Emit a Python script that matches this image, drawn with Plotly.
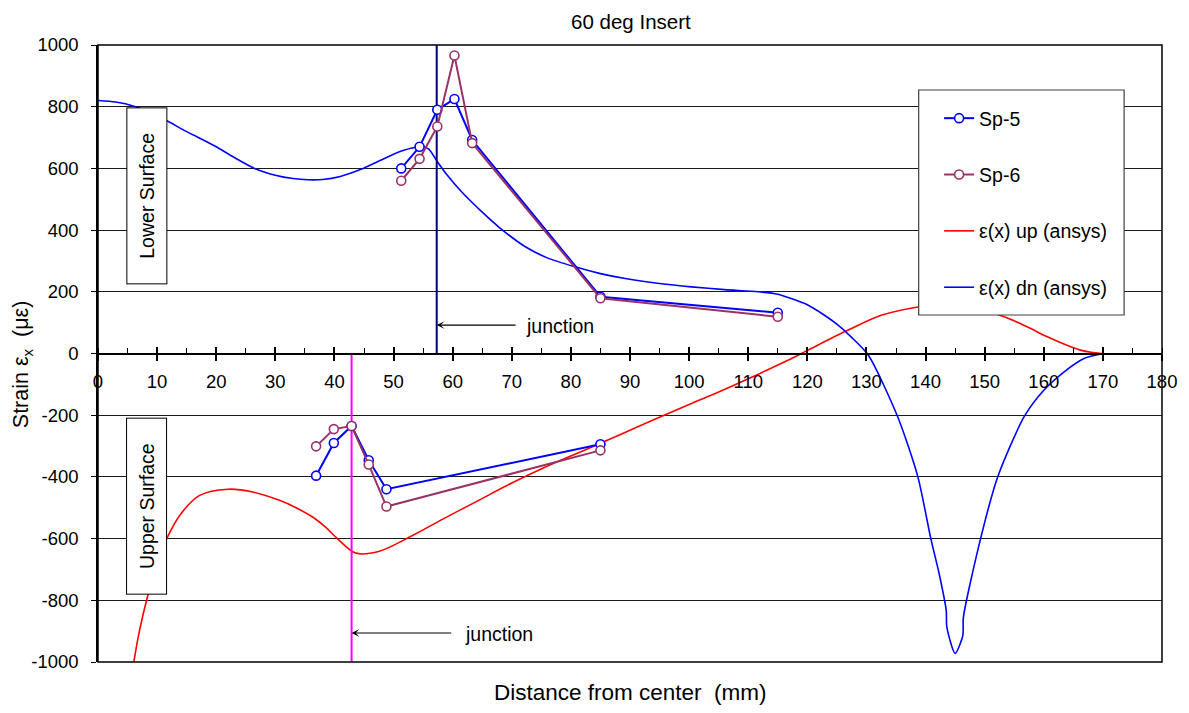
import plotly.graph_objects as go

# ---------------- data ----------------
sp_lower_x = [51.3, 54.4, 57.4, 60.3, 63.3, 85.0, 115.0]
sp5_lower_y = [600, 670, 790, 825, 692, 184, 132]
sp6_lower_y = [560, 631, 736, 966, 682, 179, 119]

sp_upper_x = [36.9, 39.9, 42.9, 45.8, 48.8, 85.0]
sp5_upper_y = [-396, -290, -235, -346, -440, -294]
sp6_upper_y = [-301, -245, -235, -360, -496, -314]

up_x = [5.8, 7.0, 8.5, 10.0, 11.6, 14.0, 17.2, 22.0, 26.0, 30.7, 33.5, 36.3, 38.5, 40.5,
        43.6, 47.6, 53.2, 58.0, 64.4, 70.0, 75.7, 82.0, 88.1, 94.0, 100.0, 105.0,
        110.0, 116.7, 120.1, 126.9, 132.5, 138.7, 142.0, 145.0, 148.0, 153.3,
        157.0, 160.6, 163.5, 166.2, 168.0, 170.0]
up_y = [-1030, -900, -779, -680, -601, -520, -460, -440, -448, -476, -500, -530, -563,
        -600, -647, -641, -590, -540, -476, -420, -368, -316, -265, -215, -165, -125,
        -82, -22, 11, 76, 124, 151, 158, 157, 148, 119,
        88, 54, 30, 11, 4, 0]

dn_x = [0.0, 3.0, 6.2, 9.0, 11.9, 14.5, 17.2, 20.0, 23.0, 26.5, 30.0, 33.0, 35.5, 38.0,
        41.0, 44.5, 48.0, 51.0, 53.5, 55.0, 56.0, 57.3, 59.0, 61.0, 63.0, 65.0, 67.8,
        72.3, 76.0, 80.7, 85.0, 89.2, 95.0, 100.4, 106.0, 111.7, 115.0, 117.3, 120.0,
        122.9, 125.0, 127.4, 130.3, 135.3, 138.7, 140.9, 142.3, 143.5, 143.6, 145.0,
        146.3, 146.4, 149.3, 152.2, 156.7, 160.0, 163.4, 166.8, 170.0]
dn_y = [820, 815, 801, 780, 752, 724, 698, 670, 636, 600, 578, 567, 563, 564,
        574, 597, 628, 654, 668, 670, 662, 625, 580, 535, 495, 458, 410,
        346, 310, 281, 259, 243, 227, 216, 207, 200, 192, 178, 158,
        124, 95, 54, -5, -206, -400, -601, -714, -833, -887, -972,
        -915, -855, -601, -400, -204, -119, -60, -16, 0]

junction_lower_x = 57.3
junction_upper_x = 42.9

x_range = [0, 180]
y_range = [-1000, 1000]
y_tick_vals = [-1000, -800, -600, -400, -200, 0, 200, 400, 600, 800, 1000]
y_tick_labels = ["-1000", "-800", "-600", "-400", "-200", "0",
                 "200", "400", "600", "800", "1000"]

FONT = "Arial, Liberation Sans, sans-serif"
BLUE = "#0000FF"
MAROON = "#993366"
RED = "#FF0000"
TXT = 19.5
TICK = 18.5


def join(a, b):
    return list(a) + [None] + list(b)


fig = go.Figure()

fig.add_trace(go.Scatter(x=up_x, y=up_y, mode="lines", name="ε(x) up (ansys)",
                         line=dict(color=RED, width=1.6, shape="spline", smoothing=0.9),
                         legendgroup="c", legendrank=3))
fig.add_trace(go.Scatter(x=dn_x, y=dn_y, mode="lines", name="ε(x) dn (ansys)",
                         line=dict(color=BLUE, width=1.6, shape="spline", smoothing=0.7),
                         legendgroup="d", legendrank=4))

# junction lines
fig.add_trace(go.Scatter(x=[junction_lower_x, junction_lower_x], y=[0, y_range[1]],
                         mode="lines", line=dict(color="#000080", width=2),
                         showlegend=False, hoverinfo="skip"))
fig.add_trace(go.Scatter(x=[junction_upper_x, junction_upper_x], y=[y_range[0], 0],
                         mode="lines", line=dict(color="#FF00FF", width=2),
                         showlegend=False, hoverinfo="skip"))

fig.add_trace(go.Scatter(x=join(sp_lower_x, sp_upper_x), y=join(sp5_lower_y, sp5_upper_y),
                         mode="lines+markers", name="Sp-5",
                         line=dict(color=BLUE, width=2),
                         marker=dict(symbol="circle", size=9, color="white",
                                     line=dict(color=BLUE, width=1.6)),
                         legendgroup="a", legendrank=1))
fig.add_trace(go.Scatter(x=join(sp_lower_x, sp_upper_x), y=join(sp6_lower_y, sp6_upper_y),
                         mode="lines+markers", name="Sp-6",
                         line=dict(color=MAROON, width=2),
                         marker=dict(symbol="circle", size=9, color="white",
                                     line=dict(color=MAROON, width=1.6)),
                         legendgroup="b", legendrank=2))

fig.update_layout(
    width=1189, height=713,
    margin=dict(l=98, r=24, t=45, b=51),
    paper_bgcolor="white", plot_bgcolor="white",
    font=dict(family=FONT, size=TXT, color="black"),
    title=dict(text="60 deg Insert", x=0.5306, xanchor="center",
               y=1 - 22 / 713, yref="container", yanchor="middle",
               font=dict(family=FONT, size=20.5, color="black")),
    showlegend=True,
    legend=dict(x=0.7905, y=0.9125, xanchor="left", yanchor="top",
                bgcolor="rgba(0,0,0,0)", borderwidth=0,
                font=dict(family=FONT, size=TXT, color="black"),
                tracegroupgap=28, traceorder="grouped"),
    xaxis=dict(range=x_range, dtick=10, tick0=0, showgrid=False, zeroline=False,
               showline=True, linecolor="black", linewidth=1.5,
               anchor="free", position=0.5,
               ticks="outside", ticklen=7, tickwidth=1.5, tickcolor="black",
               minor=dict(dtick=5, ticks="inside", ticklen=5, tickwidth=1.2,
                          tickcolor="black", showgrid=False),
               ticklabelstandoff=5,
               tickfont=dict(family=FONT, size=TICK, color="black")),
    xaxis2=dict(range=x_range, dtick=10, tick0=0, overlaying="x", matches="x",
                anchor="free", position=0.5, showgrid=False, zeroline=False,
                showline=False, ticks="inside", ticklen=7, tickwidth=1.5,
                tickcolor="black", showticklabels=False),
    yaxis=dict(range=y_range, tickmode="array", tickvals=y_tick_vals, ticktext=y_tick_labels,
               showgrid=True, gridcolor="#1a1a1a",
               gridwidth=1, zeroline=False, showline=True, linecolor="black",
               linewidth=1.5, ticks="outside", ticklen=5, tickcolor="black",
               ticklabelstandoff=9,
               tickfont=dict(family=FONT, size=TICK, color="black")),
)

# invisible trace to anchor xaxis2
fig.add_trace(go.Scatter(x=[None], y=[None], xaxis="x2", showlegend=False, hoverinfo="skip"))

# frame
fig.add_shape(type="rect", xref="paper", yref="paper", x0=0, x1=1, y0=0, y1=1,
              line=dict(color="black", width=1.5), layer="above")
# legend box
fig.add_shape(type="rect", xref="paper", yref="paper",
              x0=(921 - 98) / 1067, x1=(1127 - 98) / 1067,
              y0=(662 - 315) / 617, y1=(662 - 90) / 617,
              line=dict(color="#404040", width=1.2), fillcolor="white", layer="above")

# axis titles
fig.add_annotation(text="Distance from center\u00a0\u00a0(mm)", xref="paper", yref="paper",
                   x=0.5, y=(662 - 693) / 617, xanchor="center", yanchor="middle",
                   showarrow=False, font=dict(family=FONT, size=22.5, color="black"))
fig.add_annotation(text="Strain ε<sub>x</sub>\u00a0\u00a0(με)", xref="paper", yref="paper",
                   x=(22 - 98) / 1067, y=(662 - 364) / 617, xanchor="center",
                   yanchor="middle", textangle=-90, showarrow=False,
                   font=dict(family=FONT, size=21.5, color="black"))

# surface labels
for txt, yc in [("Lower Surface", 196), ("Upper Surface", 506.3)]:
    fig.add_annotation(text=txt, xref="paper", yref="paper",
                       x=(146.5 - 98) / 1067, y=(662 - yc) / 617,
                       xanchor="center", yanchor="middle", textangle=-90,
                       showarrow=False, width=173, height=37,
                       bordercolor="black", borderwidth=1, borderpad=1,
                       bgcolor="white", font=dict(family=FONT, size=TXT, color="black"))

# junction arrows
fig.add_annotation(x=junction_lower_x, y=92, ax=70.9, ay=92, axref="x", ayref="y",
                   xref="x", yref="y", text="", showarrow=True, arrowhead=3,
                   arrowsize=1.1, arrowwidth=1.2, arrowcolor="black")
fig.add_annotation(x=72.0, y=88, xref="x", yref="y", text="junction", showarrow=False,
                   xanchor="left", yanchor="middle",
                   font=dict(family=FONT, size=TXT, color="black"))
fig.add_annotation(x=junction_upper_x, y=-906, ax=60.0, ay=-906, axref="x", ayref="y",
                   xref="x", yref="y", text="", showarrow=True, arrowhead=3,
                   arrowsize=1.1, arrowwidth=1.2, arrowcolor="black")
fig.add_annotation(x=61.8, y=-910, xref="x", yref="y", text="junction", showarrow=False,
                   xanchor="left", yanchor="middle",
                   font=dict(family=FONT, size=TXT, color="black"))

fig.write_html("out.html")
